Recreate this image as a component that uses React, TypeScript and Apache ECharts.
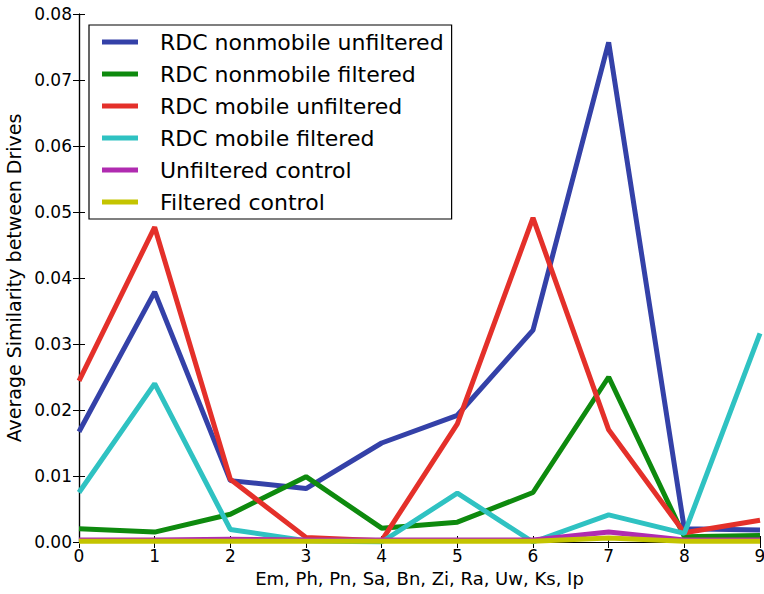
import React, { useEffect, useRef } from "react";
import * as echarts from "echarts";

// x positions (pair index) and the average similarity per series
const xValues = [0, 1, 2, 3, 4, 5, 6, 7, 8, 9];
const nonmobileUnfiltered = [0.0167, 0.0379, 0.0093, 0.0081, 0.015, 0.0192, 0.0321, 0.0757, 0.002, 0.0018];
const nonmobileFiltered = [0.002, 0.0015, 0.0042, 0.0099, 0.0021, 0.003, 0.0075, 0.025, 0.0008, 0.001];
const mobileUnfiltered = [0.0244, 0.0477, 0.0095, 0.0007, 0.0002, 0.0179, 0.0491, 0.017, 0.0014, 0.0033];
const mobileFiltered = [0.0075, 0.024, 0.0019, 0.0002, 0.0, 0.0074, 0.0, 0.0041, 0.0013, 0.0316];
const unfilteredControl = [0.0003, 0.0003, 0.0004, 0.0003, 0.0003, 0.0003, 0.0003, 0.0015, 0.0003, 0.0003];
const filteredControl = [0.0001, 0.0001, 0.0001, 0.0001, 0.0001, 0.0001, 0.0001, 0.0006, 0.0001, 0.0001];

const seriesNames = [
  "RDC nonmobile unfiltered",
  "RDC nonmobile filtered",
  "RDC mobile unfiltered",
  "RDC mobile filtered",
  "Unfiltered control",
  "Filtered control",
];
const seriesValues = [
  nonmobileUnfiltered,
  nonmobileFiltered,
  mobileUnfiltered,
  mobileFiltered,
  unfilteredControl,
  filteredControl,
];
const seriesColors = ["#3441a8", "#0e8a0e", "#e4302a", "#2fc2c2", "#b02bb0", "#c4c400"];

const xTicks = [0, 1, 2, 3, 4, 5, 6, 7, 8, 9];
const yMin = 0;
const yMax = 0.08;
const yStep = 0.01;

const FONT = "DejaVu Sans";

export default function App() {
  const ref = useRef<HTMLDivElement>(null);

  useEffect(() => {
    if (!ref.current) return;
    document.body.style.margin = "0";
    document.body.style.overflow = "hidden";
    const chart = echarts.init(ref.current, null, { renderer: "svg" });

    const frameAxis = {
      axisLine: { show: true, lineStyle: { color: "#000", width: 1.2 } },
      axisTick: { show: true, inside: true, length: 6, lineStyle: { color: "#000" } },
      splitLine: { show: false },
    };

    chart.setOption({
      animation: false,
      backgroundColor: "#fff",
      grid: {
        left: 79,
        right: 4,
        top: 14,
        bottom: 52,
        containLabel: false,
        outerBoundsMode: "none",
      },
      legend: {
        orient: "vertical",
        left: 89,
        top: 25,
        padding: [6, 8, 6, 13],
        itemGap: 10,
        itemWidth: 36,
        itemHeight: 5,
        icon: "rect",
        borderColor: "#000",
        borderWidth: 1.2,
        backgroundColor: "#fff",
        textStyle: { fontFamily: FONT, fontSize: 22, color: "#000", padding: [0, 0, 0, 17], lineHeight: 22 },
        data: seriesNames,
      },
      xAxis: [
        {
          type: "value",
          min: 0,
          max: 9,
          interval: 1,
          name: "Em, Ph, Pn, Sa, Bn, Zi, Ra, Uw, Ks, Ip",
          nameLocation: "middle",
          nameGap: 27,
          nameTextStyle: { fontFamily: FONT, fontSize: 18, color: "#000" },
          axisLabel: {
            fontFamily: FONT,
            fontSize: 17,
            color: "#000",
            margin: 5,
            formatter: (v: number) => (xTicks.includes(v) ? String(v) : ""),
          },
          ...frameAxis,
        },
        {
          type: "value",
          position: "top",
          min: 0,
          max: 9,
          interval: 1,
          axisLabel: { show: false },
          ...frameAxis,
        },
      ],
      yAxis: [
        {
          type: "value",
          min: yMin,
          max: yMax,
          interval: yStep,
          name: "Average Similarity between Drives",
          nameLocation: "middle",
          nameGap: 54,
          nameTextStyle: { fontFamily: FONT, fontSize: 19, color: "#000" },
          axisLabel: {
            fontFamily: FONT,
            fontSize: 17,
            color: "#000",
            margin: 7,
            formatter: (v: number) => v.toFixed(2),
          },
          ...frameAxis,
        },
        {
          type: "value",
          position: "right",
          min: yMin,
          max: yMax,
          interval: yStep,
          axisLabel: { show: false },
          ...frameAxis,
        },
      ],
      series: seriesNames.map((name, i) => ({
        name,
        type: "line",
        xAxisIndex: 0,
        yAxisIndex: 0,
        symbol: "none",
        color: seriesColors[i],
        lineStyle: { width: 5, color: seriesColors[i] },
        data: xValues.map((x, j) => [x, seriesValues[i][j]]),
        z: 2 + i,
      })),
    });

    return () => chart.dispose();
  }, []);

  return <div ref={ref} style={{ position: "fixed", left: 0, top: 0, width: 764, height: 594 }} />;
}
